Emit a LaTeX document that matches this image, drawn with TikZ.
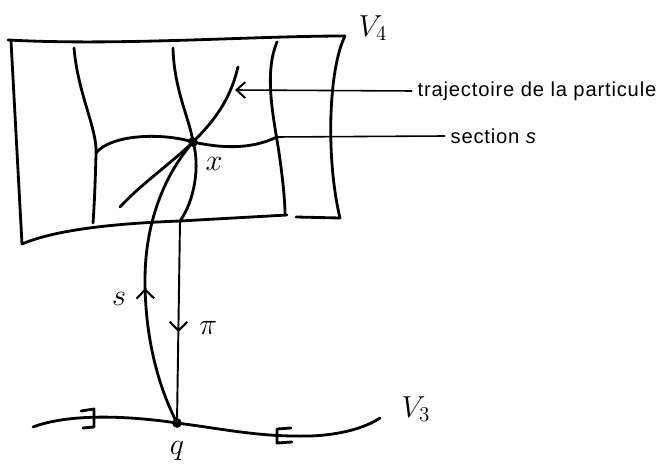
\documentclass[tikz,border=0pt]{standalone}
\usepackage{fontspec}
\setmainfont{Liberation Sans}
\usetikzlibrary{arrows.meta}
\usetikzlibrary{decorations.markings}

\begin{document}
\begin{tikzpicture}[x=0.02cm, y=-0.02cm,
    thickline/.style={line width=1.6pt, line cap=round, line join=round},
    thinline/.style={line width=0.9pt},
    dot/.style={circle, fill=black, inner sep=0pt, minimum size=5.5pt},
    hand/.style={font=\fontsize{17}{19}\selectfont, inner sep=0pt},
    printed/.style={font=\fontsize{11.5}{13}\selectfont\addfontfeature{LetterSpace=4}, anchor=west, inner xsep=3pt, inner ysep=0pt},
    midarrow/.style={postaction={decorate}, decoration={markings,
        mark=at position #1 with {\arrow{Straight Barb[length=5pt, width=10pt, line width=1.2pt]}}}}]

      % Frame of the picture
      \useasboundingbox (0,0) rectangle (659,469);

      % Points x on the sheet and q on the base
      \coordinate (x) at (193,142);
      \coordinate (q) at (177,423);
      \coordinate (pibase) at (180,221);
      \coordinate (trajtip) at (235,90);
      \coordinate (secend) at (277,137);

      % The sheet V4
      \draw[thickline] (8,40) .. controls (120,46) and (250,36) .. (345,36);
      \draw[thickline] (11,41) -- (22,244);
      \draw[thickline] (22,244) .. controls (50,232) and (100,224) .. (pibase) -- (287,215);
      \draw[thickline] (296,217) -- (340,218);
      \draw[thickline] (345,36) .. controls (328,70) and (326,160) .. (340,218);

      % Fibres of the sheet
      \draw[thickline] (74,48) .. controls (78,95) and (98,130) .. (96,155)
                                .. controls (95,190) and (94,210) .. (93,223);
      \draw[thickline] (173,48) .. controls (174,90) and (190,120) .. (x)
                                .. controls (200,165) and (195,200) .. (pibase);
      \draw[thickline] (277,42) .. controls (265,70) and (272,110) .. (277,140)
                                .. controls (282,170) and (285,200) .. (285,214);

      % Section s and trajectory through x
      \draw[thickline] (96,153) .. controls (110,135) and (160,132) .. (x)
                                .. controls (220,148) and (250,150) .. (secend);
      \draw[thickline] (120,207) .. controls (140,185) and (175,160) .. (x)
                                 .. controls (215,120) and (230,100) .. (238,67);

      % The base V3 with its neighbourhood
      \draw[thickline] (33,427) .. controls (70,413) and (130,416) .. (q)
                                .. controls (230,430) and (260,437) .. (310,436)
                                .. controls (340,435) and (365,428) .. (380,418);
      \draw[thickline] (81,411) -- (94,409) -- (94,427) -- (83,428);
      \draw[thickline] (291,428) -- (277,429) -- (277,443) -- (292,442);

      % Projection pi and section s between base and sheet
      \draw[thinline, line width=1.1pt, midarrow=0.55] (pibase) -- (q);
      \draw[thickline, midarrow=0.47] (q) .. controls (155,380) and (145,330) .. (145,280)
                                          .. controls (145,230) and (160,180) .. (x);

      % Dots
      \node[dot] (xdot) at (x) {};
      \node[dot] (qdot) at (q) {};

      % Handwritten labels
      \node[hand] (v4) at (373,28) {$V_4$};
      \node[hand] (v3) at (416,409) {$V_3$};
      \node[hand] (xlab) at (214,164) {$x$};
      \node[hand] (slab) at (119,299) {$s$};
      \node[hand] (pilab) at (208,328) {$\pi$};
      \node[hand] (qlab) at (177,451) {$q$};

      % Printed labels with their lines
      \node[printed] (traj) at (412,91) {trajectoire de la particule};
      \node[printed] (sect) at (445,136) {section \textit{s}};
      \draw[thinline, -{Straight Barb[length=5pt, width=9pt, line width=1.1pt]}] (traj.west) -- (trajtip);
      \draw[thinline] (secend) -- (sect.west);

    \end{tikzpicture}
\end{document}
